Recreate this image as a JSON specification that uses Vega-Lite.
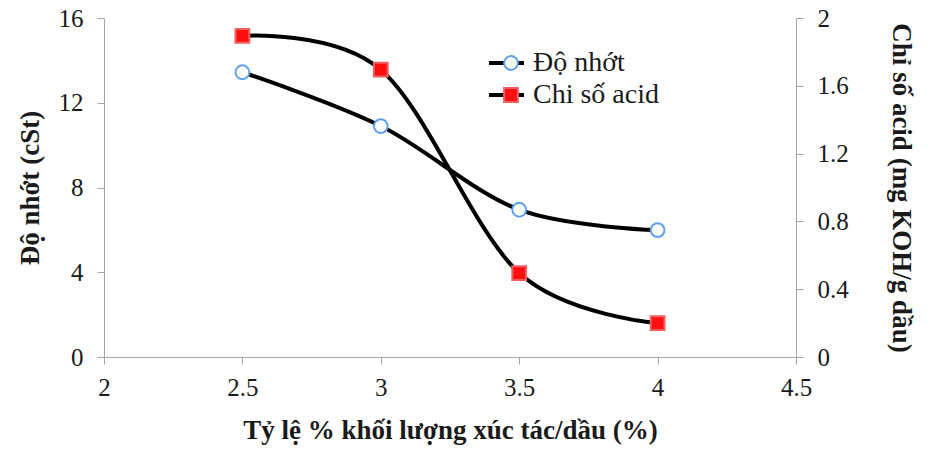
{
  "$schema": "https://vega.github.io/schema/vega-lite/v6.json",
  "autosize": "none",
  "width": 692,
  "height": 339,
  "padding": {"left": 104, "top": 18, "right": 149, "bottom": 93},
  "background": "white",
  "config": {
    "view": {"stroke": null},
    "font": "Liberation Serif",
    "axis": {
      "grid": false,
      "domainColor": "#a6a6a6",
      "tickColor": "#a6a6a6",
      "tickSize": 7,
      "labelFont": "Liberation Serif",
      "labelFontSize": 25,
      "labelColor": "#1a1a1a",
      "titleFont": "Liberation Serif",
      "titleFontSize": 27,
      "titleFontWeight": "bold",
      "titleColor": "#1a1a1a",
      "format": "~g"
    },
    "legend": {
      "labelFont": "Liberation Serif",
      "labelFontSize": 28,
      "labelColor": "#1a1a1a",
      "padding": 0
    }
  },
  "data": {
    "values": [
      {"x": 2.5, "series": "Độ nhớt", "value": 13.44},
      {"x": 3.0, "series": "Độ nhớt", "value": 10.9},
      {"x": 3.5, "series": "Độ nhớt", "value": 6.95},
      {"x": 4.0, "series": "Độ nhớt", "value": 5.99},
      {"x": 2.5, "series": "Chi số acid", "value": 1.895},
      {"x": 3.0, "series": "Chi số acid", "value": 1.695},
      {"x": 3.5, "series": "Chi số acid", "value": 0.495},
      {"x": 4.0, "series": "Chi số acid", "value": 0.2}
    ]
  },
  "encoding": {
    "x": {
      "field": "x",
      "type": "quantitative",
      "scale": {"domain": [2, 4.5], "nice": false, "zero": false},
      "axis": {
        "values": [2, 2.5, 3, 3.5, 4, 4.5],
        "format": "~g",
        "title": "Tỷ lệ % khối lượng xúc tác/dầu (%)",
        "labelPadding": 11,
        "titlePadding": 17,
        "labelFlush": false
      }
    }
  },
  "layer": [
    {
      "transform": [{"filter": "datum.series === 'Độ nhớt'"}],
      "encoding": {
        "y": {
          "field": "value",
          "type": "quantitative",
          "scale": {"domain": [0, 16], "nice": false},
          "axis": {
            "orient": "left",
            "values": [0, 4, 8, 12, 16],
            "format": "~g",
            "title": "Độ nhớt (cSt)",
            "labelPadding": 14,
            "titlePadding": 14
          }
        }
      },
      "layer": [
        {
          "mark": {"type": "line", "interpolate": "cardinal", "strokeWidth": 4},
          "encoding": {
            "color": {
              "field": "series",
              "type": "nominal",
              "scale": {"range": ["black", "black"]},
              "legend": {
                "orient": "none",
                "legendX": 383,
                "legendY": 35,
                "title": null,
                "symbolType": "stroke",
                "symbolSize": 1225,
                "symbolStrokeWidth": 4,
                "labelExpr": "''",
                "labelFontSize": 28,
                "clipHeight": 20,
                "rowPadding": 4
              }
            }
          }
        },
        {
          "mark": {"type": "point", "filled": false, "opacity": 1, "strokeWidth": 2},
          "encoding": {
            "shape": {
              "field": "series",
              "type": "nominal",
              "scale": {"domain": ["Độ nhớt", "Chi số acid"], "range": ["circle", "square"]},
              "legend": {
                "orient": "none",
                "legendX": 393,
                "legendY": 35,
                "title": null,
                "clipHeight": 20,
                "rowPadding": 4,
                "labelOffset": 8,
                "symbolSize": 190,
                "symbolStrokeWidth": 2
              }
            },
            "fill": {"field": "series", "type": "nominal", "scale": {"domain": ["Độ nhớt", "Chi số acid"], "range": ["white", "#ff1010"]}},
            "stroke": {"field": "series", "type": "nominal", "scale": {"domain": ["Độ nhớt", "Chi số acid"], "range": ["#5fa0f0", "#f06060"]}},
            "size": {"value": 190}
          }
        }
      ]
    },
    {
      "transform": [{"filter": "datum.series === 'Chi số acid'"}],
      "encoding": {
        "y": {
          "field": "value",
          "type": "quantitative",
          "scale": {"domain": [0, 2], "nice": false},
          "axis": {
            "orient": "right",
            "values": [0, 0.4, 0.8, 1.2, 1.6, 2],
            "format": "~g",
            "title": "Chỉ số acid (mg KOH/g dầu)",
            "labelPadding": 14,
            "titlePadding": 38
          }
        }
      },
      "layer": [
        {
          "mark": {"type": "line", "interpolate": "cardinal", "strokeWidth": 4},
          "encoding": {
            "color": {"field": "series", "type": "nominal"}
          }
        },
        {
          "mark": {"type": "point", "filled": false, "opacity": 1, "strokeWidth": 2},
          "encoding": {
            "shape": {"field": "series", "type": "nominal"},
            "fill": {"field": "series", "type": "nominal"},
            "stroke": {"field": "series", "type": "nominal"},
            "size": {"value": 190}
          }
        }
      ]
    }
  ],
  "resolve": {"scale": {"y": "independent"}}
}
